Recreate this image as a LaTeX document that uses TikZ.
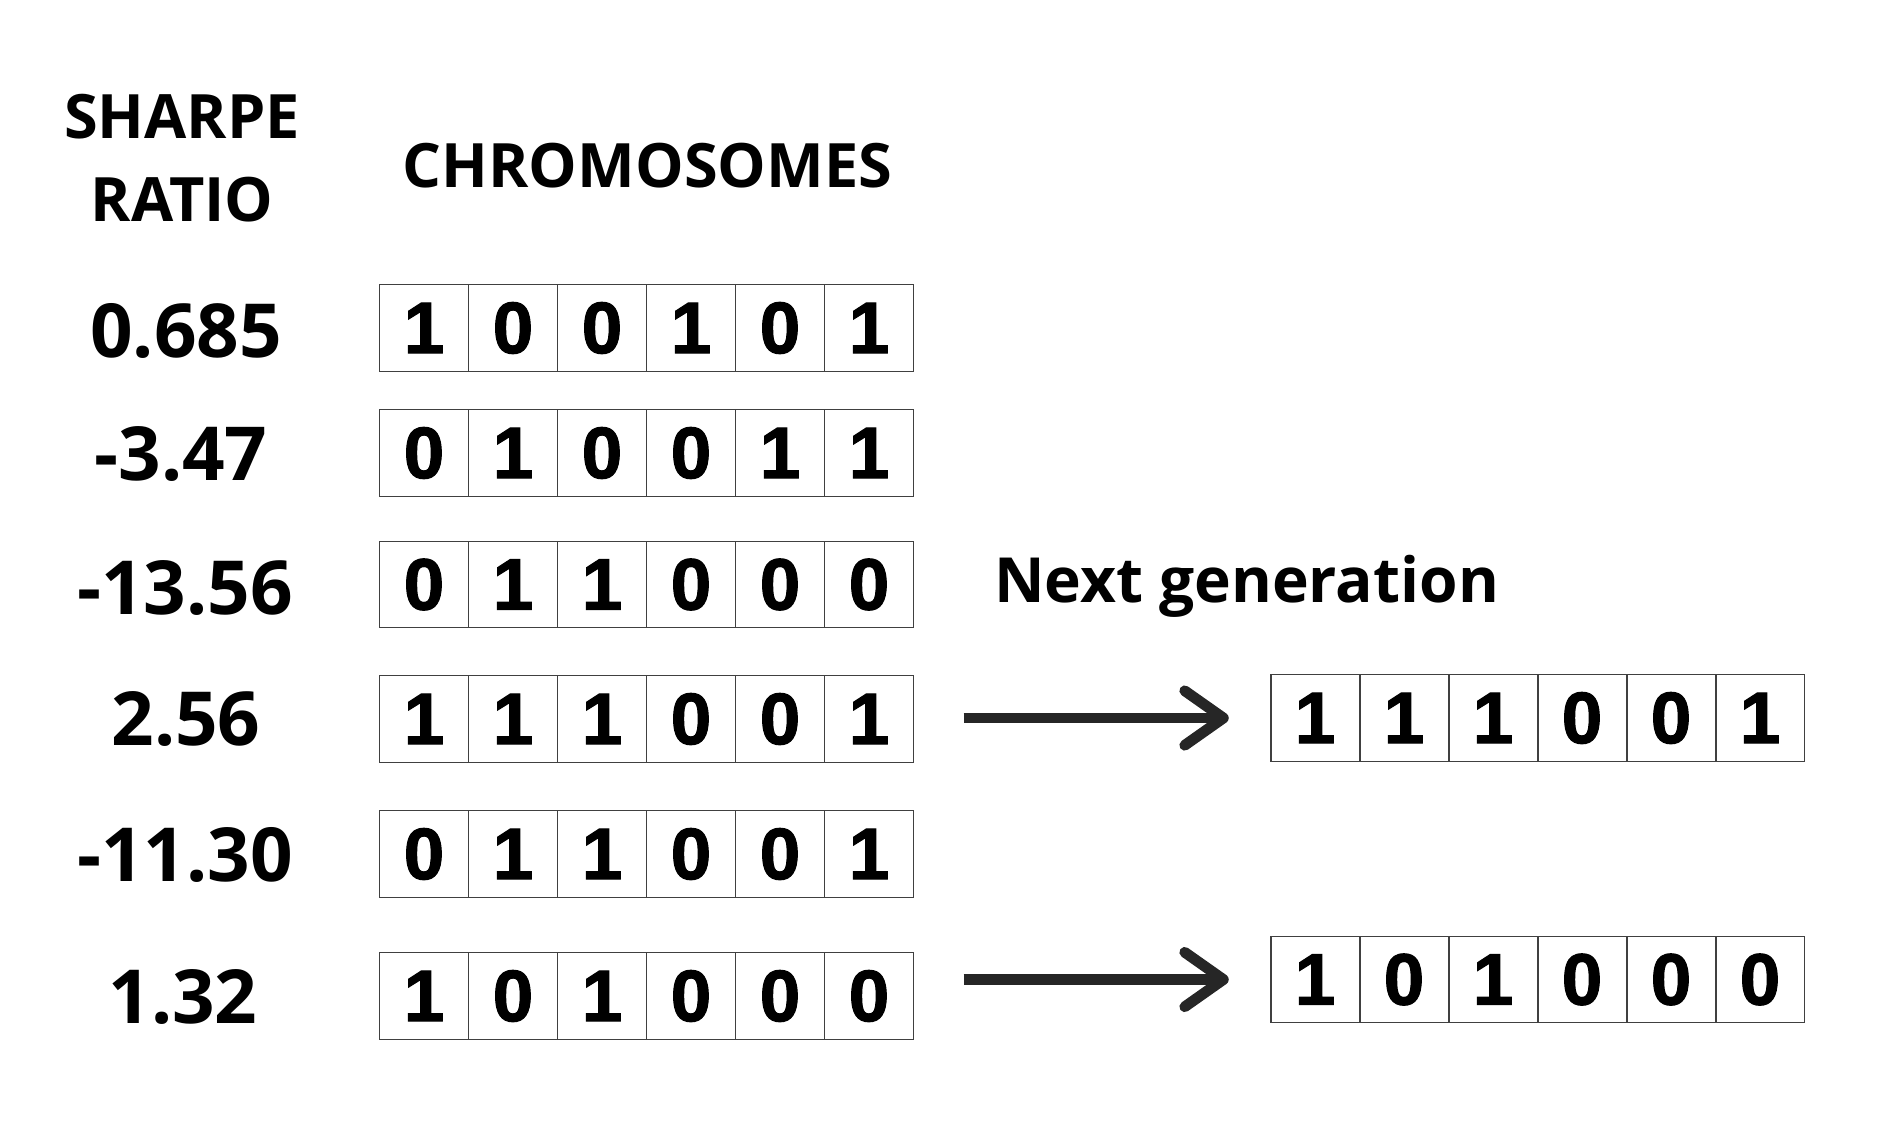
\documentclass[tikz,border=0pt]{standalone}
\usepackage{fontspec}
\setmainfont{Open Sans}
\newfontfamily\bitfont[BoldFeatures={FakeBold=1.6}]{Liberation Sans}
\usepackage{tikz}
\usetikzlibrary{arrows.meta}

\definecolor{arrowgray}{RGB}{38,38,38}

\tikzset{
	bit/.style={draw=black!75, line width=0.35pt, inner sep=0pt, minimum width=25.1pt, minimum height=24.6pt, font=\bitfont\bfseries\fontsize{20.7}{22}\selectfont},
	score/.style={inner sep=0pt, font=\bfseries\fontsize{21.2}{24}\selectfont},
	title/.style={inner sep=0pt, font=\bfseries\fontsize{17.4}{23.6}\selectfont},
	nextarrow/.style={arrowgray, line width=3.05pt, -{Straight Barb[length=11pt, width=15.5pt, round]}}
}

\begin{document}
\begin{tikzpicture}[x=0.01cm, y=-0.01cm]
	\useasboundingbox (0,0) rectangle (1888,1141);

	\node[title, align=center] (sharpe) at (182,158.6) {SHARPE\\RATIO};
	\node[title] (chrom) at (647.5,166) {CHROMOSOMES};
	\node[title, font=\bfseries\fontsize{17.7}{22}\selectfont, anchor=base] (next) at (1246.5,602) {Next generation};

	% row 1
	\node[score] (s1) at (186,331) {0.685};
	\node[bit] (a1) at (424,328) {1};
	\node[bit] (a2) at (513,328) {0};
	\node[bit] (a3) at (602,328) {0};
	\node[bit] (a4) at (691,328) {1};
	\node[bit] (a5) at (780,328) {0};
	\node[bit] (a6) at (869,328) {1};
	% row 2
	\node[score] (s2) at (181,454) {-3.47};
	\node[bit] (b1) at (424,453) {0};
	\node[bit] (b2) at (513,453) {1};
	\node[bit] (b3) at (602,453) {0};
	\node[bit] (b4) at (691,453) {0};
	\node[bit] (b5) at (780,453) {1};
	\node[bit] (b6) at (869,453) {1};
	% row 3
	\node[score] (s3) at (185,588) {-13.56};
	\node[bit] (c1) at (424,584.5) {0};
	\node[bit] (c2) at (513,584.5) {1};
	\node[bit] (c3) at (602,584.5) {1};
	\node[bit] (c4) at (691,584.5) {0};
	\node[bit] (c5) at (780,584.5) {0};
	\node[bit] (c6) at (869,584.5) {0};
	% row 4
	\node[score] (s4) at (186,719) {2.56};
	\node[bit] (d1) at (424,719) {1};
	\node[bit] (d2) at (513,719) {1};
	\node[bit] (d3) at (602,719) {1};
	\node[bit] (d4) at (691,719) {0};
	\node[bit] (d5) at (780,719) {0};
	\node[bit] (d6) at (869,719) {1};
	% row 5
	\node[score] (s5) at (185,855) {-11.30};
	\node[bit] (e1) at (424,854) {0};
	\node[bit] (e2) at (513,854) {1};
	\node[bit] (e3) at (602,854) {1};
	\node[bit] (e4) at (691,854) {0};
	\node[bit] (e5) at (780,854) {0};
	\node[bit] (e6) at (869,854) {1};
	% row 6
	\node[score] (s6) at (183,997) {1.32};
	\node[bit] (f1) at (424,996) {1};
	\node[bit] (f2) at (513,996) {0};
	\node[bit] (f3) at (602,996) {1};
	\node[bit] (f4) at (691,996) {0};
	\node[bit] (f5) at (780,996) {0};
	\node[bit] (f6) at (869,996) {0};

	% next generation
	\node[bit] (g1) at (1315,718) {1};
	\node[bit] (g2) at (1404,718) {1};
	\node[bit] (g3) at (1493,718) {1};
	\node[bit] (g4) at (1582,718) {0};
	\node[bit] (g5) at (1671,718) {0};
	\node[bit] (g6) at (1760,718) {1};

	\node[bit] (h1) at (1315,979.5) {1};
	\node[bit] (h2) at (1404,979.5) {0};
	\node[bit] (h3) at (1493,979.5) {1};
	\node[bit] (h4) at (1582,979.5) {0};
	\node[bit] (h5) at (1671,979.5) {0};
	\node[bit] (h6) at (1760,979.5) {0};

	% arrows
	\draw[nextarrow, shorten <=14.2pt, shorten >=11.8pt](d6.east |- g1.west) -- (g1.west);
	\draw[nextarrow, shorten <=14.2pt, shorten >=11.8pt](f6.east |- h1.west) -- (h1.west);
\end{tikzpicture}
\end{document}
